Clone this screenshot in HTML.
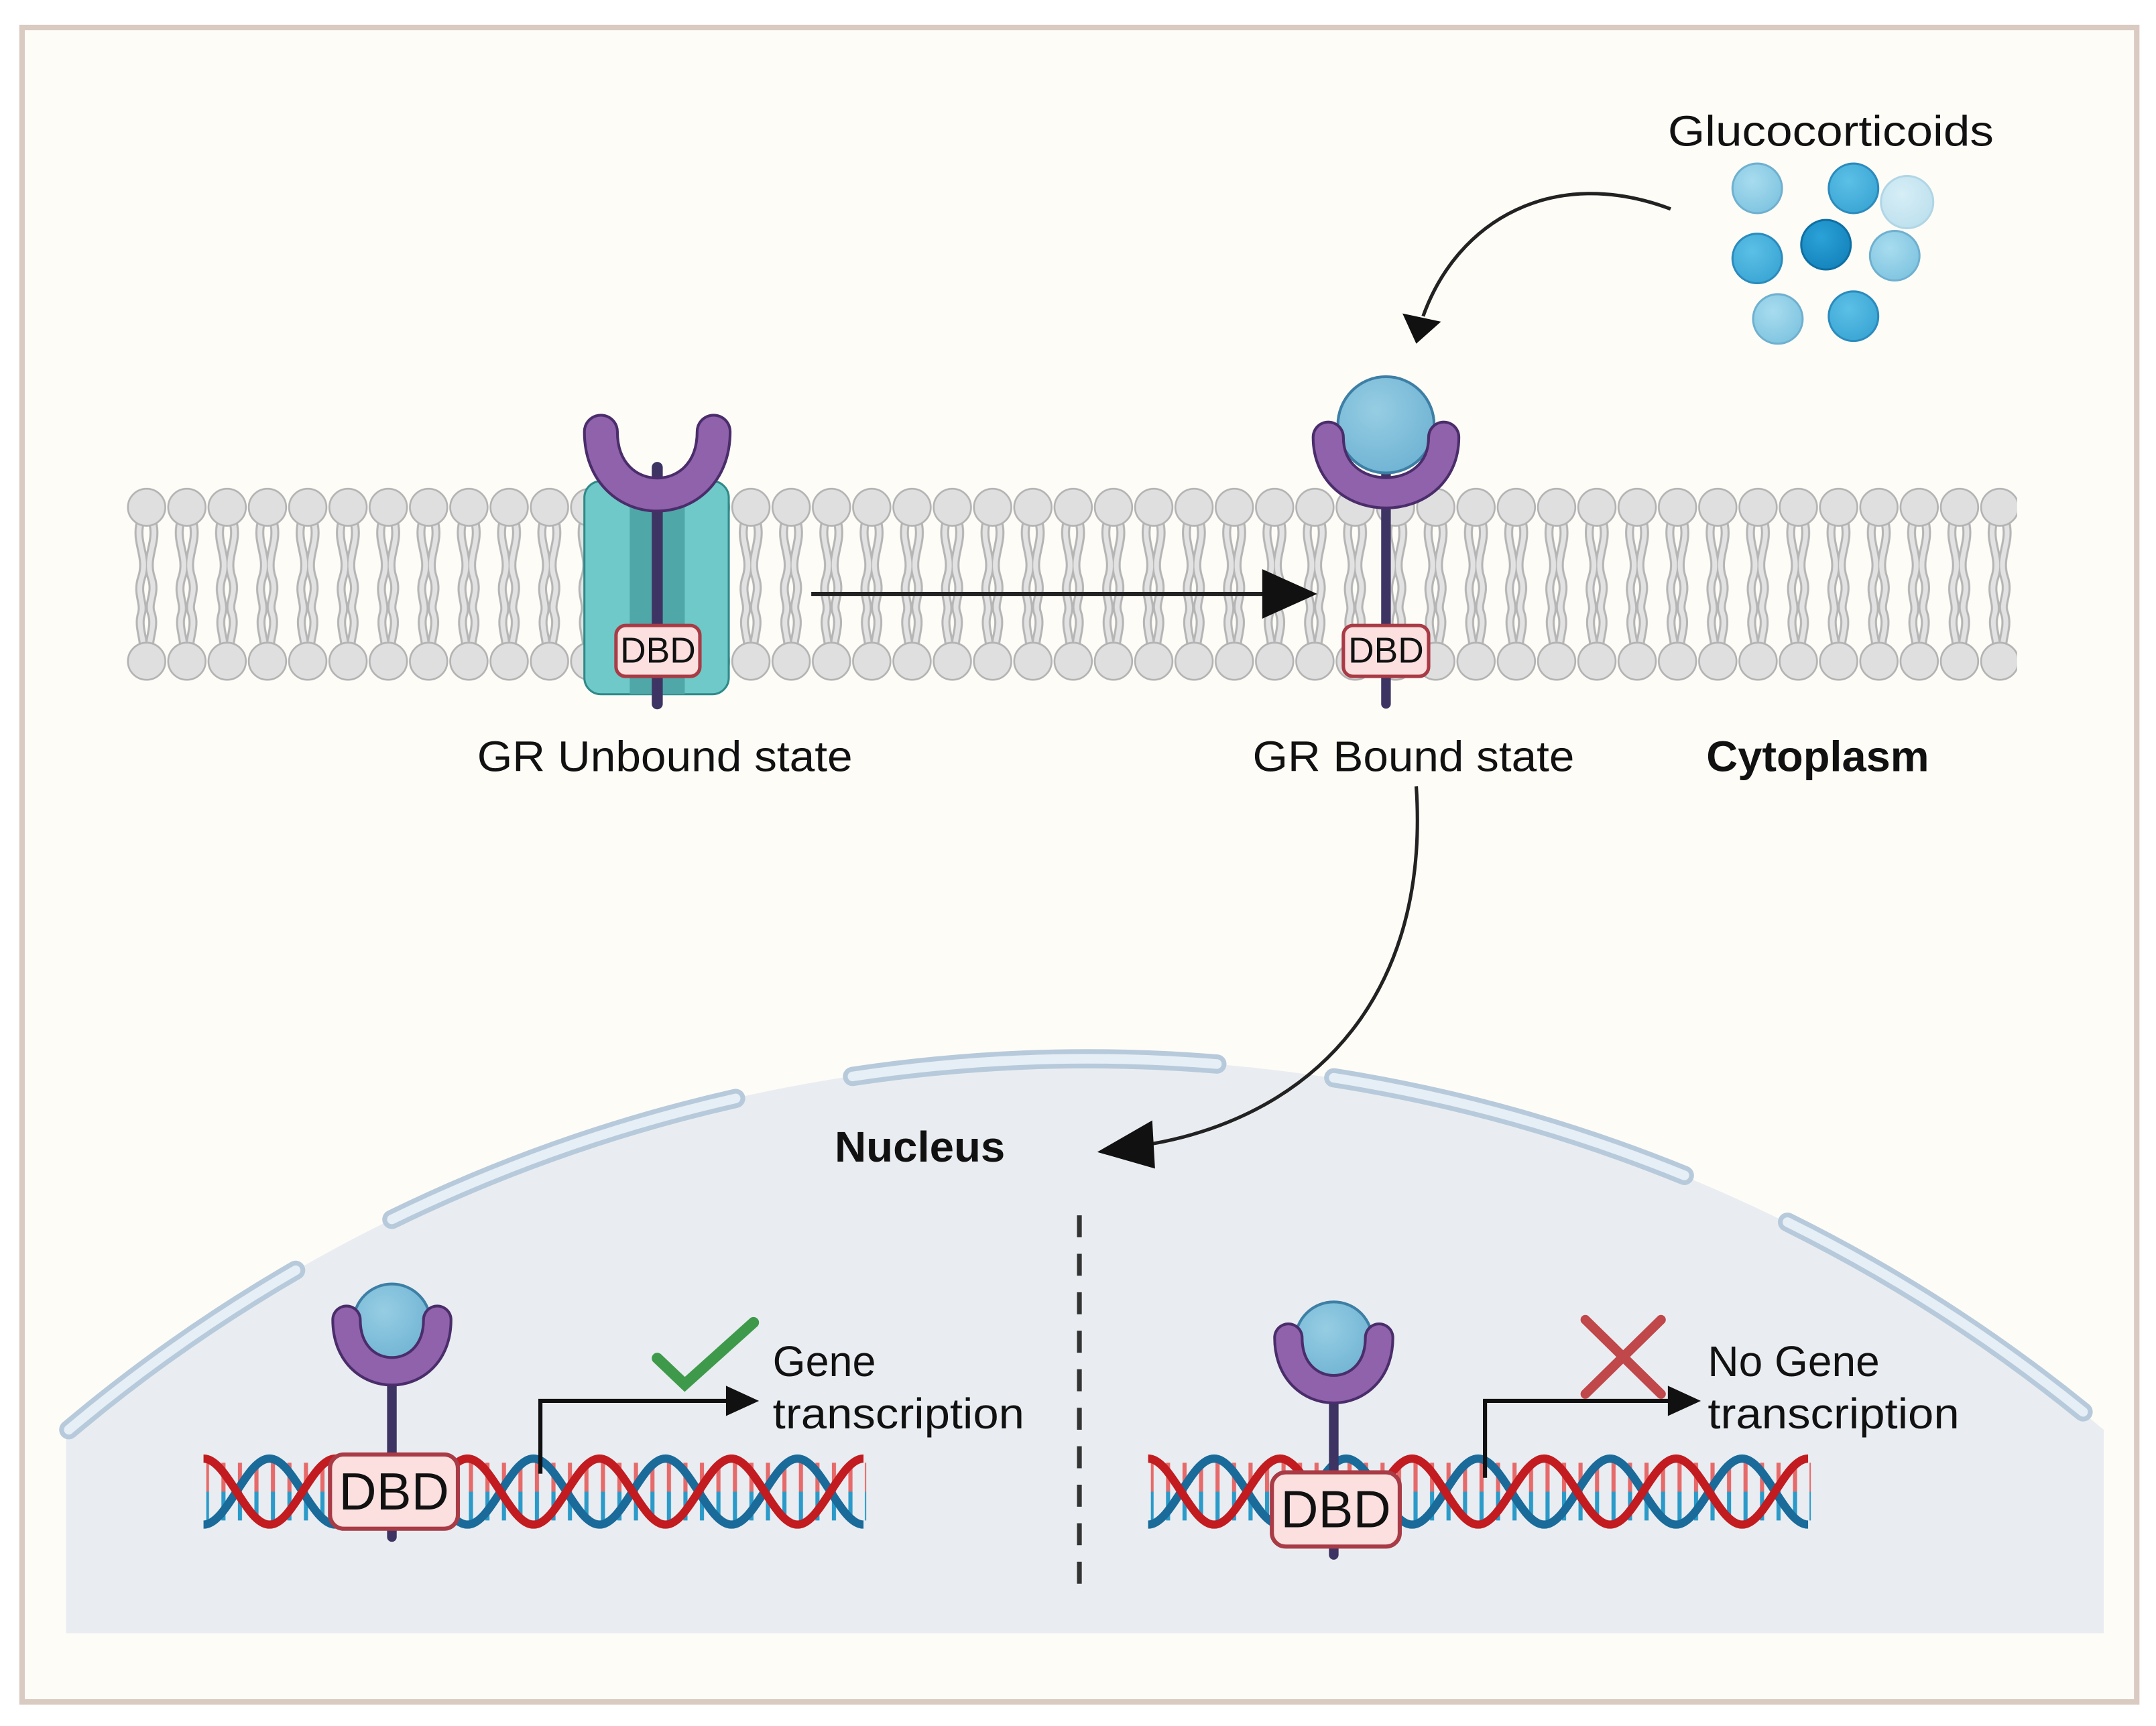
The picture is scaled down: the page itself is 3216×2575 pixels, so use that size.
<!DOCTYPE html>
<html><head><meta charset="utf-8"><style>html,body{margin:0;padding:0;background:#fff;width:3216px;height:2575px;overflow:hidden;position:relative}svg{display:block;position:absolute;left:0;top:0}</style></head>
<body>
<svg width="3216" height="2575" viewBox="0 0 1568 1255.5" xmlns="http://www.w3.org/2000/svg" font-family="'Liberation Sans', sans-serif">
<defs>
<pattern id="lip" x="92" y="350" width="29.3" height="150" patternUnits="userSpaceOnUse">
 <g fill="none" stroke="#b5b5b5" stroke-width="6.5" stroke-linecap="round">
  <path d="M10,30 C6,45 16,55 11,70 C7,82 13,88 11,96 C7,108 16,118 11,132"/>
  <path d="M19,30 C23,45 13,55 18,70 C22,82 15,88 18,96 C22,108 13,118 18,132"/>
 </g>
 <g fill="none" stroke="#e2e2e2" stroke-width="3.5" stroke-linecap="round">
  <path d="M10,30 C6,45 16,55 11,70 C7,82 13,88 11,96 C7,108 16,118 11,132"/>
  <path d="M19,30 C23,45 13,55 18,70 C22,82 15,88 18,96 C22,108 13,118 18,132"/>
 </g>
 <ellipse cx="14.6" cy="19" rx="13.6" ry="13.5" fill="#dfdfdf" stroke="#b3b3b3" stroke-width="1.3"/>
 <ellipse cx="14.6" cy="131" rx="13.6" ry="13.5" fill="#dfdfdf" stroke="#b3b3b3" stroke-width="1.3"/>
</pattern>
<pattern id="rungs" x="0" y="1000" width="12" height="200" patternUnits="userSpaceOnUse">
 <rect x="5" y="64" width="3" height="21" fill="#e66a6a"/><rect x="5" y="85" width="3" height="21" fill="#2b9ac8"/>
</pattern>
<radialGradient id="gl" cx="0.4" cy="0.35" r="0.7"><stop offset="0" stop-color="#a8dcef"/><stop offset="1" stop-color="#7fc4e0"/></radialGradient>
<radialGradient id="gm" cx="0.4" cy="0.35" r="0.7"><stop offset="0" stop-color="#5cc0e6"/><stop offset="1" stop-color="#3aa5d4"/></radialGradient>
<radialGradient id="gd" cx="0.4" cy="0.35" r="0.7"><stop offset="0" stop-color="#2aa2d8"/><stop offset="1" stop-color="#1583bb"/></radialGradient>
<radialGradient id="gv" cx="0.4" cy="0.35" r="0.7"><stop offset="0" stop-color="#d6eef6"/><stop offset="1" stop-color="#bde0ee"/></radialGradient>
<radialGradient id="gb" cx="0.4" cy="0.35" r="0.7"><stop offset="0" stop-color="#96cde3"/><stop offset="1" stop-color="#6fb3d3"/></radialGradient>
<g id="rec">
 <line x1="285" y1="990" x2="285" y2="1118" stroke="#3e3463" stroke-width="7" stroke-linecap="round"/>
 <circle cx="285" cy="962" r="28" fill="url(#gb)" stroke="#3d7fa5" stroke-width="2"/>
 <path d="M252,960 C252,1010 318,1010 318,960" fill="none" stroke="#4a2d6a" stroke-width="22" stroke-linecap="round"/>
 <path d="M252,960 C252,1010 318,1010 318,960" fill="none" stroke="#8f62ab" stroke-width="18" stroke-linecap="round"/>
 <rect x="240" y="1058" width="93" height="54" rx="10" fill="#fbe0df" stroke="#a83b45" stroke-width="3"/>
 <text x="286.5" y="1098" font-size="38" text-anchor="middle" fill="#111">DBD</text>
</g>
<g id="dna">
 <rect x="150" y="1060" width="480" height="50" fill="url(#rungs)"/>
 <path d="M148,1109 C165.3,1109 178.7,1061 196,1061 S226.7,1109 244,1109 S274.7,1061 292,1061 S322.7,1109 340,1109 S370.7,1061 388,1061 S418.7,1109 436,1109 S466.7,1061 484,1061 S514.7,1109 532,1109 S562.7,1061 580,1061 S610.7,1109 628,1109" fill="none" stroke="#1a6a9a" stroke-width="6"/>
 <path d="M148,1061 C165.3,1061 178.7,1109 196,1109 S226.7,1061 244,1061 S274.7,1109 292,1109 S322.7,1061 340,1061 S370.7,1109 388,1109 S418.7,1061 436,1061 S466.7,1109 484,1109 S514.7,1061 532,1061 S562.7,1109 580,1109 S610.7,1061 628,1061" fill="none" stroke="#c21b20" stroke-width="6"/>
</g>
</defs>

<rect x="0" y="0" width="1568" height="1255.5" fill="#fff"/>
<rect x="16" y="20" width="1538" height="1218" fill="#fefcf7" stroke="#d9cac2" stroke-width="4"/>

<rect x="92" y="350" width="1375" height="150" fill="url(#lip)"/>

<rect x="425" y="350" width="105" height="155" rx="12" fill="#6ec9c8" stroke="#2e8a89" stroke-width="1.5"/>
<rect x="458" y="360" width="40" height="145" fill="#4fa7a8"/>
<line x1="478" y1="340" x2="478" y2="512" stroke="#3e3463" stroke-width="8" stroke-linecap="round"/>
<path d="M437,314 C437,375 519,375 519,314" fill="none" stroke="#4a2d6a" stroke-width="26" stroke-linecap="round"/>
<path d="M437,314 C437,375 519,375 519,314" fill="none" stroke="#8f62ab" stroke-width="22" stroke-linecap="round"/>
<rect x="448" y="455" width="61" height="37" rx="7" fill="#fbe0df" stroke="#a83b45" stroke-width="2.5"/>
<text x="478.5" y="482" font-size="26" text-anchor="middle" fill="#111">DBD</text>

<line x1="1008" y1="340" x2="1008" y2="512" stroke="#3e3463" stroke-width="7" stroke-linecap="round"/>
<circle cx="1008" cy="309" r="35" fill="url(#gb)" stroke="#3d7fa5" stroke-width="2"/>
<path d="M966,318 C966,372 1050,372 1050,318" fill="none" stroke="#4a2d6a" stroke-width="24" stroke-linecap="round"/>
<path d="M966,318 C966,372 1050,372 1050,318" fill="none" stroke="#8f62ab" stroke-width="20" stroke-linecap="round"/>
<rect x="977" y="455" width="62" height="37" rx="7" fill="#fbe0df" stroke="#a83b45" stroke-width="2.5"/>
<text x="1008" y="482" font-size="26" text-anchor="middle" fill="#111">DBD</text>

<line x1="590" y1="432" x2="922" y2="432" stroke="#222" stroke-width="3"/>
<path d="M918,414 L958,432 L918,450 Z" fill="#111"/>

<path d="M1215,152 C1130,120 1060,160 1035,230" fill="none" stroke="#222" stroke-width="2.5"/>
<path d="M1020,228 L1030,250 L1048,234 Z" fill="#111"/>

<text x="1213" y="106" font-size="31" fill="#111" textLength="237" lengthAdjust="spacingAndGlyphs">Glucocorticoids</text>
<g stroke-width="1.5">
<circle cx="1278" cy="137" r="18" fill="url(#gl)" stroke="#6fb0cf"/>
<circle cx="1348" cy="137" r="18" fill="url(#gm)" stroke="#2b8bbd"/>
<circle cx="1387" cy="147" r="19" fill="url(#gv)" stroke="#b0d6e6"/>
<circle cx="1328" cy="178" r="18" fill="url(#gd)" stroke="#0e6fa3"/>
<circle cx="1278" cy="188" r="18" fill="url(#gm)" stroke="#2b8bbd"/>
<circle cx="1378" cy="186" r="18" fill="url(#gl)" stroke="#6fb0cf"/>
<circle cx="1293" cy="232" r="18" fill="url(#gl)" stroke="#6fb0cf"/>
<circle cx="1348" cy="230" r="18" fill="url(#gm)" stroke="#2b8bbd"/>
</g>

<text x="347" y="561" font-size="31" fill="#111" textLength="273" lengthAdjust="spacingAndGlyphs">GR Unbound state</text>
<text x="911" y="561" font-size="31" fill="#111" textLength="234" lengthAdjust="spacingAndGlyphs">GR Bound state</text>
<text x="1241" y="561" font-size="31" font-weight="bold" fill="#111" textLength="162" lengthAdjust="spacingAndGlyphs">Cytoplasm</text>

<path d="M48,1188 L48,1041.4 A1150,1150 0 0 1 1530,1040 L1530,1188 Z" fill="#e9edf1"/>
<g fill="none" stroke-linecap="round">
 <g stroke="#b7cadb" stroke-width="14">
  <path d="M50,1040 A1150,1150 0 0 1 215,924"/>
  <path d="M285,887 A1150,1150 0 0 1 535,799"/>
  <path d="M620,783 A1150,1150 0 0 1 885,774"/>
  <path d="M970,784 A1150,1150 0 0 1 1225,855"/>
  <path d="M1300,889 A1150,1150 0 0 1 1515,1027"/>
 </g>
 <g stroke="#e6eef6" stroke-width="7">
  <path d="M50,1040 A1150,1150 0 0 1 215,924"/>
  <path d="M285,887 A1150,1150 0 0 1 535,799"/>
  <path d="M620,783 A1150,1150 0 0 1 885,774"/>
  <path d="M970,784 A1150,1150 0 0 1 1225,855"/>
  <path d="M1300,889 A1150,1150 0 0 1 1515,1027"/>
 </g>
</g>

<path d="M1030,572 C1040,720 960,810 838,832" fill="none" stroke="#222" stroke-width="2.5"/>
<path d="M838,815 L798,838 L840,850 Z" fill="#111"/>
<text x="607" y="845" font-size="31" font-weight="bold" fill="#111" textLength="124" lengthAdjust="spacingAndGlyphs">Nucleus</text>

<line x1="785" y1="884" x2="785" y2="1160" stroke="#333" stroke-width="3.5" stroke-dasharray="16,12"/>

<use href="#dna"/>
<use href="#rec"/>
<path d="M393,1072 L393,1019 L540,1019" fill="none" stroke="#111" stroke-width="3"/>
<path d="M528,1008 L552,1019 L528,1030 Z" fill="#111"/>
<path d="M478,988 L498,1007 L548,962" fill="none" stroke="#3e9a4a" stroke-width="8" stroke-linecap="round"/>
<text x="562" y="1001" font-size="31" fill="#111" textLength="75" lengthAdjust="spacingAndGlyphs">Gene</text>
<text x="562" y="1039" font-size="31" fill="#111" textLength="183" lengthAdjust="spacingAndGlyphs">transcription</text>

<use href="#dna" transform="translate(687,0)"/>
<use href="#rec" transform="translate(685,13)"/>
<path d="M1080,1075 L1080,1019 L1225,1019" fill="none" stroke="#111" stroke-width="3"/>
<path d="M1213,1008 L1237,1019 L1213,1030 Z" fill="#111"/>
<path d="M1153,960 L1208,1014 M1208,960 L1153,1014" stroke="#c0474a" stroke-width="7" stroke-linecap="round"/>
<text x="1242" y="1001" font-size="31" fill="#111" textLength="125" lengthAdjust="spacingAndGlyphs">No Gene</text>
<text x="1242" y="1039" font-size="31" fill="#111" textLength="183" lengthAdjust="spacingAndGlyphs">transcription</text>
</svg>
</body></html>
